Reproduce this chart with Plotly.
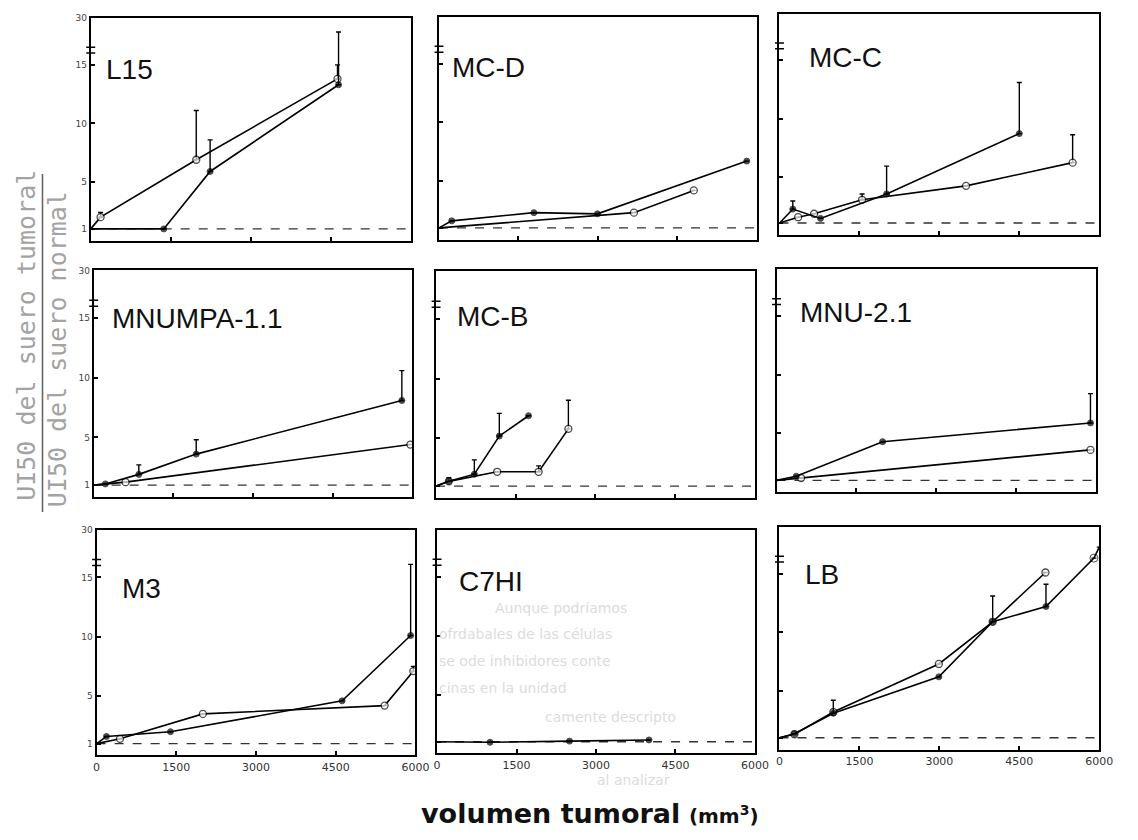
import plotly.graph_objects as go

W, H = 1138, 840
PAGE_MARGIN = 8  # default body margin of the html page
FW, FH = W - 2 * PAGE_MARGIN, H - 2 * PAGE_MARGIN

# ---------------- data (real values, UI50 ratio) ----------------
PANELS = ["L15", "MC-D", "MC-C", "MNUMPA-1.1", "MC-B", "MNU-2.1", "M3", "C7HI", "LB"]

START_X, START_Y = 0, 1.0
REF_LEVEL = 1.0

X_TICKS = [0, 1500, 3000, 4500, 6000]
X_TICK_TEXT = ["0", "1500", "3000", "4500", "6000"]
Y_TICK_REAL = [1, 5, 10, 15, 30]
Y_TICK_TEXT = ["1", "5", "10", "15", "30"]

# filled circles series
L15_f_x = [1370, 2240, 4650]
L15_f_y = [1.0, 5.9, 13.3]
L15_f_e = [0, 2.7, 12.2]
L15_o_x = [185, 1980, 4630]
L15_o_y = [2.0, 6.9, 13.8]
L15_o_e = [0.4, 4.2, 1.2]

MCD_f_x = [240, 1790, 2990, 5810]
MCD_f_y = [1.6, 2.3, 2.2, 6.7]
MCD_f_e = [0, 0, 0, 0]
MCD_o_x = [3680, 4810]
MCD_o_y = [2.3, 4.2]
MCD_o_e = [0, 0]

MCC_f_x = [250, 770, 2010, 4500]
MCC_f_y = [2.2, 1.4, 3.5, 8.7]
MCC_f_e = [0.7, 0, 2.4, 4.4]
MCC_o_x = [350, 650, 1550, 3500, 5500]
MCC_o_y = [1.5, 1.8, 3.0, 4.2, 6.2]
MCC_o_e = [0, 0, 0.5, 0, 2.4]

MNUMPA_f_x = [220, 850, 1930, 5800]
MNUMPA_f_y = [1.1, 1.9, 3.6, 8.1]
MNUMPA_f_e = [0, 0.8, 1.2, 2.5]
MNUMPA_o_x = [600, 5960]
MNUMPA_o_y = [1.25, 4.4]
MNUMPA_o_e = [0, 0]

MCB_f_x = [240, 720, 1190, 1740]
MCB_f_y = [1.4, 2.0, 5.2, 6.9]
MCB_f_e = [0, 1.2, 1.9, 0]
MCB_o_x = [240, 1150, 1930, 2490]
MCB_o_y = [1.4, 2.2, 2.2, 5.8]
MCB_o_e = [0.3, 0, 0.5, 2.4]

MNU_f_x = [370, 1990, 5890]
MNU_f_y = [1.35, 4.3, 5.9]
MNU_f_e = [0, 0, 2.5]
MNU_o_x = [460, 5890]
MNU_o_y = [1.2, 3.6]
MNU_o_e = [0, 0]

M3_f_x = [185, 1390, 4620, 5910]
M3_f_y = [1.6, 2.0, 4.6, 10.1]
M3_f_e = [0, 0, 0, 9.0]
M3_o_x = [440, 2000, 5420, 5960]
M3_o_y = [1.4, 3.5, 4.2, 7.1]
M3_o_e = [0, 0, 0, 0.4]

C7HI_f_x = [1000, 2500, 4000]
C7HI_f_y = [0.95, 1.05, 1.15]
C7HI_f_e = [0, 0, 0]
C7HI_o_x = []
C7HI_o_y = []
C7HI_o_e = []

LB_f_x = [280, 1010, 2990, 4000, 5000, 5900]
LB_f_y = [1.35, 3.1, 6.2, 10.9, 12.2, 20.0]
LB_f_e = [0, 1.1, 0, 2.2, 1.9, 0]
LB_o_x = [280, 1010, 2990, 4000, 4990]
LB_o_y = [1.3, 3.2, 7.3, 10.9, 15.4]
LB_o_e = [0, 0, 0, 0, 0]
LB_tail_x, LB_tail_y = 6000, 23.5

FILLED = [(L15_f_x, L15_f_y, L15_f_e), (MCD_f_x, MCD_f_y, MCD_f_e), (MCC_f_x, MCC_f_y, MCC_f_e),
          (MNUMPA_f_x, MNUMPA_f_y, MNUMPA_f_e), (MCB_f_x, MCB_f_y, MCB_f_e), (MNU_f_x, MNU_f_y, MNU_f_e),
          (M3_f_x, M3_f_y, M3_f_e), (C7HI_f_x, C7HI_f_y, C7HI_f_e), (LB_f_x, LB_f_y, LB_f_e)]
OPEN = [(L15_o_x, L15_o_y, L15_o_e), (MCD_o_x, MCD_o_y, MCD_o_e), (MCC_o_x, MCC_o_y, MCC_o_e),
        (MNUMPA_o_x, MNUMPA_o_y, MNUMPA_o_e), (MCB_o_x, MCB_o_y, MCB_o_e), (MNU_o_x, MNU_o_y, MNU_o_e),
        (M3_o_x, M3_o_y, M3_o_e), (C7HI_o_x, C7HI_o_y, C7HI_o_e), (LB_o_x, LB_o_y, LB_o_e)]

# ---------------- layout geometry (window pixels) ----------------
FRAMES = [(88, 13, 413, 237), (442, 12, 765, 236), (788, 9, 1113, 231),
          (91, 267, 415, 495), (439, 268, 763, 496), (785, 266, 1110, 490),
          (94, 528, 418, 755), (440, 528, 763, 753), (788, 525, 1113, 749)]
LABEL_OFF = [(13, 52), (11, 51), (28, 44), (17, 48), (19, 45), (22, 43), (24, 59), (20, 52), (24, 48)]

Y_TOP_DISPLAY = 19.0
K = (Y_TOP_DISPLAY - 15.0) / 15.0


def brk(v):
    return v if v <= 15 else 15 + (v - 15) * K


def px_x(x):
    return min(1.0, max(0.0, (x - PAGE_MARGIN) / FW))


def px_y(y):
    return min(1.0, max(0.0, 1 - (y - PAGE_MARGIN) / FH))


fig = go.Figure()
layout = dict(width=FW, height=FH, margin=dict(l=0, r=0, t=0, b=0),
              paper_bgcolor="white", plot_bgcolor="white", showlegend=False)
shapes = []
annotations = []

for i, name in enumerate(PANELS):
    n = i + 1
    xa = "x" if n == 1 else f"x{n}"
    ya = "y" if n == 1 else f"y{n}"
    l, t, r, b = FRAMES[i]
    row, col = divmod(i, 3)

    layout["xaxis" if n == 1 else f"xaxis{n}"] = dict(
        domain=[px_x(l), px_x(r)], range=[0, 6000], anchor=ya,
        showline=True, mirror=True, linecolor="black", linewidth=2,
        showgrid=False, zeroline=False, ticks="inside", ticklen=4, tickwidth=1.5,
        tickcolor="black", tickvals=X_TICKS, ticktext=X_TICK_TEXT,
        showticklabels=(row == 2), tickfont=dict(size=11, color="#333", family="DejaVu Sans"))
    layout["yaxis" if n == 1 else f"yaxis{n}"] = dict(
        domain=[px_y(b), px_y(t)], range=[0, Y_TOP_DISPLAY], anchor=xa,
        showline=True, mirror=True, linecolor="black", linewidth=2,
        showgrid=False, zeroline=False, ticks="inside", ticklen=4, tickwidth=1.5,
        tickcolor="black", tickvals=[brk(v) for v in Y_TICK_REAL], ticktext=Y_TICK_TEXT,
        showticklabels=(col == 0), tickfont=dict(size=9, color="#444", family="DejaVu Sans"))

    shapes.append(dict(type="line", xref=xa, yref=ya, x0=0, x1=6000, y0=REF_LEVEL, y1=REF_LEVEL,
                       line=dict(color="#333", width=1.4, dash="dash"), layer="below"))
    for yb in (16.0, 16.5):
        shapes.append(dict(type="line", xref=f"{xa} domain", yref=ya, x0=-0.014, x1=0.014,
                           y0=yb, y1=yb, line=dict(color="black", width=1.5)))

    for kind, (xs, ys, es) in (("open", OPEN[i]), ("filled", FILLED[i])):
        if not xs:
            continue
        px = [START_X] + list(xs)
        py = [START_Y] + list(ys)
        pe = [None] + [(brk(y + e) - brk(y)) if e else None for y, e in zip(ys, es)]
        sizes = [0] + [7 if kind == "open" else 6] * len(xs)
        if kind == "filled":
            symbols = ["circle"] * len(px)
            if name == "LB":
                symbols[-1] = "circle-open"
                sizes[-1] = 8
                px.append(LB_tail_x)
                py.append(LB_tail_y)
                pe.append(None)
                sizes.append(0)
                symbols.append("circle")
            marker = dict(color="black", size=sizes, symbol=symbols, line=dict(color="black", width=1))
        else:
            marker = dict(color="white", size=sizes, symbol="circle", line=dict(color="black", width=1.3))
        fig.add_trace(go.Scatter(
            x=px, y=[brk(v) for v in py], xaxis=xa, yaxis=ya, mode="lines+markers",
            line=dict(color="black", width=1.6), marker=marker, cliponaxis=True,
            error_y=dict(type="data", symmetric=False, array=pe, arrayminus=[None] * len(pe),
                         color="black", thickness=1.4, width=2.5),
            hoverinfo="skip"))

    ox, oy = LABEL_OFF[i]
    annotations.append(dict(text=name, xref="paper", yref="paper",
                            x=px_x(l + ox), y=px_y(t + oy), xanchor="left", yanchor="middle",
                            showarrow=False, font=dict(size=28, color="#111", family="Liberation Sans")))

# y-axis title as a fraction
annotations.append(dict(text="UI50 del suero tumoral", xref="paper", yref="paper",
                        x=px_x(22), y=px_y(332), xanchor="center", yanchor="middle",
                        textangle=-90, showarrow=False,
                        font=dict(size=25, color="#a3a3a3", family="DejaVu Sans Mono")))
annotations.append(dict(text="UI50 del suero normal", xref="paper", yref="paper",
                        x=px_x(55), y=px_y(346), xanchor="center", yanchor="middle",
                        textangle=-90, showarrow=False,
                        font=dict(size=25, color="#a3a3a3", family="DejaVu Sans Mono")))
shapes.append(dict(type="line", xref="paper", yref="paper", x0=px_x(39), x1=px_x(39),
                   y0=px_y(170), y1=px_y(510), line=dict(color="#666", width=1.6)))

# x-axis title
annotations.append(dict(text="<b>volumen tumoral</b> <span style='font-size:20px'><b>(mm<sup>3</sup>)</b></span>",
                        xref="paper", yref="paper", x=px_x(595), y=px_y(813),
                        xanchor="center", yanchor="middle", showarrow=False,
                        font=dict(size=27, color="#111", family="DejaVu Sans")))

# faint bleed-through text from the scanned page
BLEED = [(497, 607, "Aunque podríamos"), (440, 633, "ofrdabales de las células"),
         (440, 660, "se ode inhibidores conte"), (440, 687, "cinas en la unidad"),
         (548, 716, "camente descripto"), (600, 780, "al analizar")]
for bx, by, bt in BLEED:
    annotations.append(dict(text=bt, xref="paper", yref="paper", x=px_x(bx), y=px_y(by),
                            xanchor="left", yanchor="middle", showarrow=False,
                            font=dict(size=14, color="#dcdcdc", family="DejaVu Sans")))

layout["shapes"] = shapes
layout["annotations"] = annotations
fig.update_layout(**layout)
fig.write_html("out.html")
